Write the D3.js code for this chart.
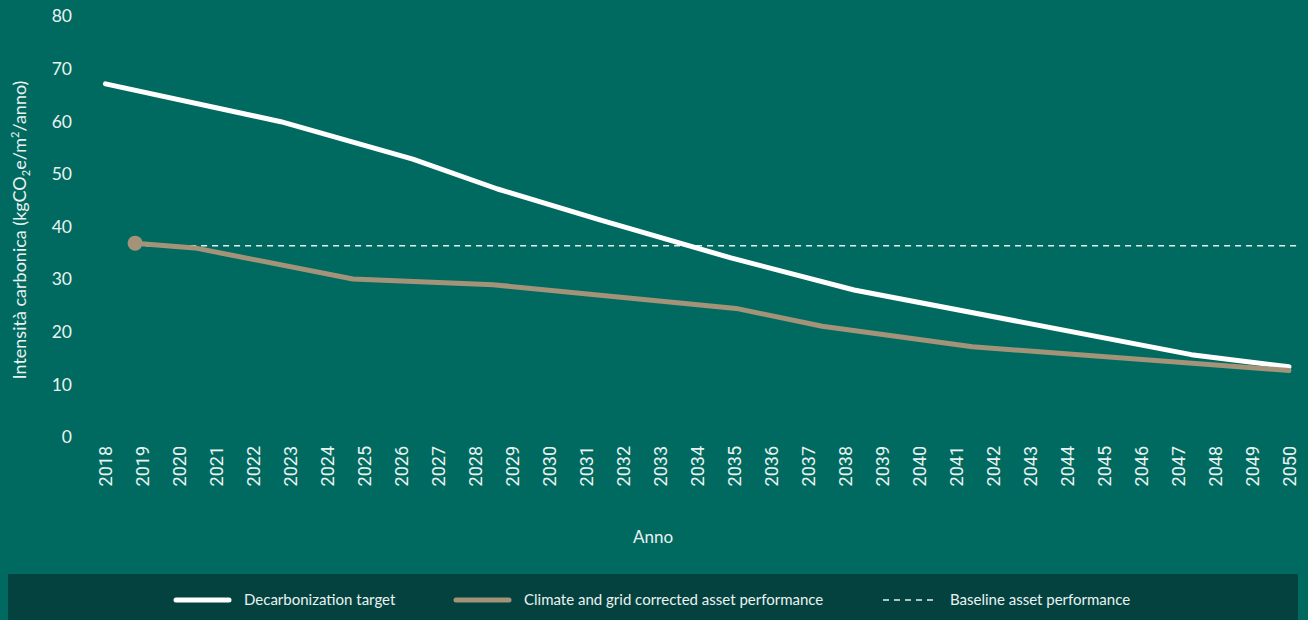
<!DOCTYPE html>
<html>
<head>
<meta charset="utf-8">
<script src="https://cdn.jsdelivr.net/npm/d3@7"></script>
<style>
  html, body { margin: 0; padding: 0; background: #006a60; }
  svg { display: block; }
</style>
</head>
<body>
<svg id="chart" width="1308" height="620"></svg>
<script>
// ---- Data ----
const tickYears = d3.range(2018, 2051);            // x tick labels
const yTicks = [0, 10, 20, 30, 40, 50, 60, 70, 80]; // y tick labels

// Decarbonization target (break points of the curve)
const targetYears  = [2018, 2022.74, 2026.31, 2028.6, 2031.39, 2034.91, 2038.24, 2047.36, 2050];
const targetValues = [67.1, 59.9, 52.8, 47.1, 41.2, 34.0, 27.9, 15.6, 13.3];

// Climate and grid corrected asset performance
const assetYears  = [2018.8, 2020.41, 2024.69, 2028.48, 2035.05, 2037.38, 2041.44, 2050];
const assetValues = [36.8, 35.9, 30.0, 28.9, 24.4, 21.0, 17.1, 12.6];

// Baseline asset performance
const baselineYears  = [2018.8, 2050.2];
const baselineValues = [36.3, 36.3];

const legendLabels = ["Decarbonization target", "Climate and grid corrected asset performance", "Baseline asset performance"];

// ---- Styles ----
const BG = "#006a60", LEGEND_BG = "#044240", TXT = "#eaf2f0";
const WHITE = "#ffffff", BROWN = "#a39479";

const svg = d3.select("#chart");
svg.append("rect").attr("width", 1308).attr("height", 620).attr("fill", BG);

const x = d3.scaleLinear().domain([2018, 2050]).range([105.5, 1289]);
const y = d3.scaleLinear().domain([0, 80]).range([436.7, 16]);

// Y axis
const yAxis = d3.axisLeft(y).tickValues(yTicks).tickSize(0).tickPadding(0);
const gy = svg.append("g").attr("transform", "translate(72,0)").call(yAxis);
gy.select(".domain").remove();
gy.selectAll("text")
  .attr("fill", TXT)
  .attr("font-family", "Lato, 'Open Sans', sans-serif")
  .attr("font-size", 17.5)
  .attr("dy", "0.34em");

// X axis
const xAxis = d3.axisBottom(x).tickValues(tickYears).tickFormat(d3.format("d")).tickSize(0).tickPadding(0);
const gx = svg.append("g").attr("transform", "translate(0,446)").call(xAxis);
gx.select(".domain").remove();
gx.selectAll("text")
  .attr("fill", TXT)
  .attr("font-family", "Roboto, sans-serif")
  .attr("font-size", 18)
  .attr("text-anchor", "end")
  .attr("transform", "rotate(-90)")
  .attr("x", 0)
  .attr("y", 0)
  .attr("dx", 0)
  .attr("dy", "0.35em");

// Axis titles
const yTitle = svg.append("text")
  .attr("transform", "translate(26,230) rotate(-90)")
  .attr("text-anchor", "middle")
  .attr("fill", TXT)
  .attr("font-family", "Lato, 'Open Sans', sans-serif")
  .attr("font-size", 18);
yTitle.append("tspan").text("Intensità carbonica (kgCO");
yTitle.append("tspan").text("2").attr("font-size", 11).attr("dy", 4);
yTitle.append("tspan").text("e/m").attr("dy", -4);
yTitle.append("tspan").text("2").attr("font-size", 11).attr("dy", -7);
yTitle.append("tspan").text("/anno)").attr("dy", 7);

svg.append("text")
  .attr("x", 653).attr("y", 543)
  .attr("text-anchor", "middle")
  .attr("fill", TXT)
  .attr("font-family", "Lato, 'Open Sans', sans-serif")
  .attr("font-size", 17)
  .text("Anno");

// Lines
const line = d3.line().x(d => x(d[0])).y(d => y(d[1]));
const baseline = d3.zip(baselineYears, baselineValues);
const target = d3.zip(targetYears, targetValues);
const asset = d3.zip(assetYears, assetValues);

svg.append("path").datum(baseline)
  .attr("d", line).attr("fill", "none")
  .attr("stroke", "#e6efed").attr("stroke-width", 1.5)
  .attr("stroke-dasharray", "6,5");

svg.append("path").datum(target)
  .attr("d", line).attr("fill", "none")
  .attr("stroke", WHITE).attr("stroke-width", 5)
  .attr("stroke-linecap", "round").attr("stroke-linejoin", "round");

svg.append("path").datum(asset)
  .attr("d", line).attr("fill", "none")
  .attr("stroke", BROWN).attr("stroke-width", 5)
  .attr("stroke-linecap", "round").attr("stroke-linejoin", "round");

svg.append("circle")
  .attr("cx", x(assetYears[0])).attr("cy", y(assetValues[0]))
  .attr("r", 7.5).attr("fill", BROWN);

// Legend
svg.append("rect").attr("x", 8).attr("y", 574).attr("width", 1290).attr("height", 46).attr("fill", LEGEND_BG);
const legendItems = [
  { label: legendLabels[0], x0: 176, color: WHITE, width: 5, dash: null, cap: "round" },
  { label: legendLabels[1], x0: 456, color: BROWN, width: 5, dash: null, cap: "round" },
  { label: legendLabels[2], x0: 883, color: "#e6efed", width: 1.5, dash: "6,5", cap: "butt" }
];
const lg = svg.selectAll(".lg").data(legendItems).enter().append("g").attr("class", "lg");
lg.append("line")
  .attr("x1", d => d.x0).attr("x2", d => d.x0 + 53)
  .attr("y1", 600).attr("y2", 600)
  .attr("stroke", d => d.color).attr("stroke-width", d => d.width)
  .attr("stroke-linecap", d => d.cap)
  .attr("stroke-dasharray", d => d.dash);
lg.append("text")
  .attr("x", d => d.x0 + (d.dash ? 67 : 68)).attr("y", 600)
  .attr("dy", "0.35em")
  .attr("fill", TXT)
  .attr("font-family", "Lato, 'Open Sans', sans-serif")
  .attr("font-size", 15)
  .text(d => d.label);
</script>
</body>
</html>
